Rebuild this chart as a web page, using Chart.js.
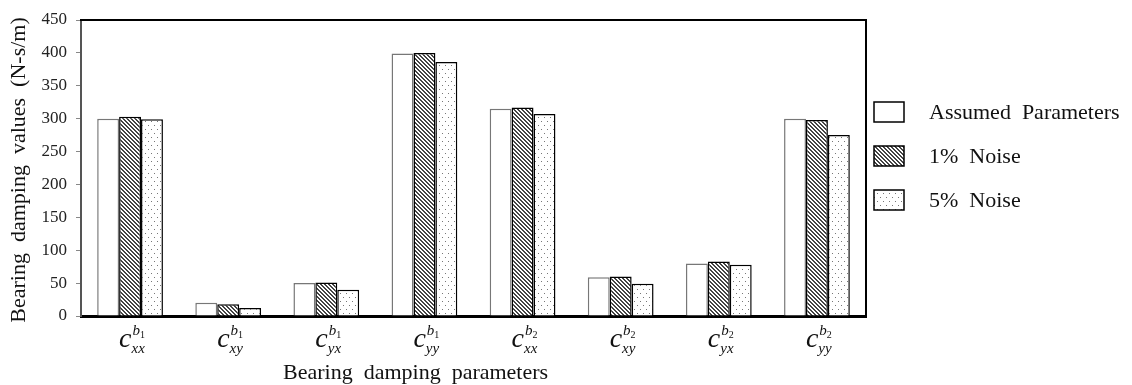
<!DOCTYPE html>
<html>
<head>
    <title>Bearing damping parameters</title>
    <script src="https://cdn.jsdelivr.net/npm/chart.js"></script>
    <style>
        body { margin: 0; background: #fff; }
        #wrap { width: 1132px; height: 385px; }
    </style>
</head>
<body>
    <div id="wrap"><canvas id="grafico" width="1132" height="385"></canvas></div>

    <script>
        // datos
        const categorias = ['c_xx^b1', 'c_xy^b1', 'c_yx^b1', 'c_yy^b1', 'c_xx^b2', 'c_xy^b2', 'c_yx^b2', 'c_yy^b2'];
        const subindices = ['xx', 'xy', 'yx', 'yy', 'xx', 'xy', 'yx', 'yy'];
        const cojinetes = ['1', '1', '1', '1', '2', '2', '2', '2'];
        const asumidos = [300, 20, 50, 399, 315, 59, 80, 300];
        const ruido1 = [303, 18, 51, 400, 317, 60, 83, 298];
        const ruido5 = [299, 12, 40, 386, 307, 49, 78, 275];
        const yTicks = [0, 50, 100, 150, 200, 250, 300, 350, 400, 450];
        const nombres = ['Assumed  Parameters', '1%  Noise', '5%  Noise'];

        const serif = "'Liberation Serif', 'Times New Roman', serif";

        // patrones de relleno
        function patronRayas() {
            const c = document.createElement('canvas');
            c.width = 4; c.height = 4;
            const g = c.getContext('2d');
            g.fillStyle = '#fff';
            g.fillRect(0, 0, 4, 4);
            g.fillStyle = '#444';
            for (let i = 0; i < 4; i++) {
                g.fillRect(i, i, 1, 1);
                g.fillRect((i + 1) % 4, i, 1, 1);
            }
            return g.createPattern(c, 'repeat');
        }
        function patronPuntos() {
            const c = document.createElement('canvas');
            c.width = 6; c.height = 8;
            const g = c.getContext('2d');
            g.fillStyle = '#fff';
            g.fillRect(0, 0, 6, 8);
            g.fillStyle = '#777';
            g.fillRect(1, 1, 1, 1);
            g.fillRect(4, 5, 1, 1);
            return g.createPattern(c, 'repeat');
        }
        const rayas = patronRayas();
        const puntos = patronPuntos();

        // marco, etiquetas matematicas, titulos y leyenda
        const extras = {
            id: 'extras',
            afterDraw(chart) {
                const ctx = chart.ctx;
                const a = chart.chartArea;
                ctx.save();
                // marco superior y derecho
                ctx.strokeStyle = '#000';
                ctx.lineWidth = 2;
                ctx.beginPath();
                ctx.moveTo(a.left - 1, a.top);
                ctx.lineTo(a.right, a.top);
                ctx.lineTo(a.right, a.bottom);
                ctx.stroke();

                // etiquetas del eje x
                const xs = chart.scales.x;
                ctx.fillStyle = '#111';
                ctx.textBaseline = 'alphabetic';
                ctx.textAlign = 'left';
                categorias.forEach((cat, i) => {
                    const cx = xs.getPixelForTick(i) - 11;
                    ctx.font = 'italic 28px ' + serif;
                    ctx.fillText('c', cx, 347);
                    const w = ctx.measureText('c').width;
                    ctx.font = 'italic 15px ' + serif;
                    ctx.fillText('b', cx + w + 1, 335);
                    const wb = ctx.measureText('b').width;
                    ctx.font = '10px ' + serif;
                    ctx.fillText(cojinetes[i], cx + w + 1 + wb, 338);
                    ctx.font = 'italic 15px ' + serif;
                    ctx.fillText(subindices[i], cx + w, 353);
                });

                // titulos de los ejes
                ctx.font = '22px ' + serif;
                ctx.fillStyle = '#111';
                ctx.fillText('Bearing  damping  parameters', 283, 379);

                ctx.save();
                ctx.translate(25, (a.top + a.bottom) / 2 + 2);
                ctx.rotate(-Math.PI / 2);
                ctx.textAlign = 'center';
                ctx.fillText('Bearing  damping  values  (N-s/m)', 0, 0);
                ctx.restore();

                // leyenda
                const ds = chart.data.datasets;
                const bx = a.right + 8;
                const cy0 = (a.top + a.bottom) / 2 - 56;
                ds.forEach((d, i) => {
                    const cy = cy0 + i * 44;
                    ctx.fillStyle = d.backgroundColor;
                    ctx.fillRect(bx, cy - 10, 30, 20);
                    ctx.strokeStyle = '#000';
                    ctx.lineWidth = 1.5;
                    ctx.strokeRect(bx, cy - 10, 30, 20);
                    ctx.fillStyle = '#111';
                    ctx.font = '22px ' + serif;
                    ctx.textBaseline = 'middle';
                    ctx.fillText(d.label, bx + 55, cy + 1);
                });
                ctx.restore();
            }
        };

        const datos = {
            labels: categorias,
            datasets: [{
                label: nombres[0],
                data: asumidos,
                backgroundColor: '#fff',
                borderColor: '#777',
                borderWidth: 1.5
            }, {
                label: nombres[1],
                data: ruido1,
                backgroundColor: rayas,
                borderColor: '#000',
                borderWidth: 1.5
            }, {
                label: nombres[2],
                data: ruido5,
                backgroundColor: puntos,
                borderColor: '#000',
                borderWidth: 1.5
            }]
        };

        const configuracion = {
            type: 'bar',
            data: datos,
            plugins: [extras],
            options: {
                responsive: false,
                animation: false,
                layout: { padding: { left: 0, right: 266, top: 20, bottom: 0 } },
                datasets: {
                    bar: { categoryPercentage: 0.67, barPercentage: 1.0 }
                },
                plugins: {
                    legend: { display: false },
                    tooltip: { enabled: false }
                },
                scales: {
                    x: {
                        grid: { display: false, drawTicks: false },
                        border: { color: '#000', width: 3 },
                        ticks: { display: false },
                        afterFit: s => { s.height = 69; }
                    },
                    y: {
                        min: 0,
                        max: 450,
                        afterBuildTicks: s => { s.ticks = yTicks.map(v => ({ value: v })); },
                        ticks: {
                            padding: 9,
                            color: '#222',
                            font: { family: serif, size: 17 }
                        },
                        grid: { drawOnChartArea: false, drawTicks: true, tickLength: 5, color: '#888' },
                        border: { color: '#555', width: 2 },
                        afterFit: s => { s.width = 81; }
                    }
                }
            }
        };

        var ctx = document.getElementById('grafico').getContext('2d');
        var miGrafico = new Chart(ctx, configuracion);
    </script>
</body>
</html>
